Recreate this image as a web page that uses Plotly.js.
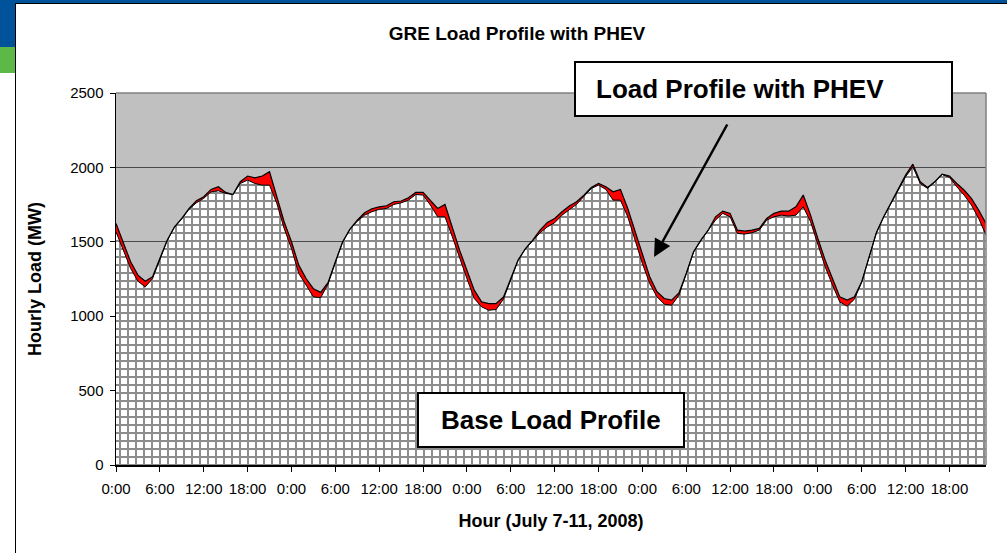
<!DOCTYPE html>
<html>
<head>
<meta charset="utf-8">
<script src="https://cdn.plot.ly/plotly-3.0.1.min.js"></script>
<style>
  html, body { margin: 0; padding: 0; background: #ffffff; }
  #wrap { position: relative; width: 1007px; height: 553px; overflow: hidden; background: #ffffff; }
  .deco { position: absolute; }
  #chart { position: absolute; left: 0; top: 0; width: 1007px; height: 553px; }
</style>
</head>
<body>
<div id="wrap">
  <div class="deco" style="left:0;top:0;width:1007px;height:3px;background:#00529b;"></div>
  <div class="deco" style="left:0;top:0;width:15px;height:47px;background:#00529b;"></div>
  <div class="deco" style="left:0;top:47px;width:15px;height:26px;background:#5cb947;"></div>
  <div class="deco" style="left:15px;top:3px;width:992px;height:1px;background:#000;"></div>
  <div class="deco" style="left:15px;top:3px;width:1px;height:550px;background:#000;"></div>
  <div id="chart"></div>
</div>
<script>
// Hours 0..119 (July 7-11, 2008)
const hours = Array.from({length: 120}, (_, i) => i);

// Base load profile (MW)
const baseLoad = [
  1567,1444,1321,1235,1197,1253,1377,1508,1598,1654,1720,1762,1792,1836,1843,1825,1818,1892,1915,1892,1881,1881,1758,1590,
  1455,1287,1209,1130,1125,1215,1360,1497,1583,1638,1679,1702,1718,1724,1751,1762,1780,1818,1814,1747,1668,1668,1534,1388,
  1253,1119,1063,1040,1045,1115,1250,1375,1452,1505,1561,1600,1628,1679,1718,1752,1805,1858,1881,1852,1780,1780,1668,1511,
  1354,1220,1130,1081,1074,1141,1285,1430,1508,1575,1646,1691,1668,1556,1552,1561,1579,1646,1668,1679,1673,1679,1735,1635,
  1478,1332,1209,1096,1067,1114,1229,1402,1559,1666,1756,1850,1937,2004,1892,1859,1902,1953,1933,1870,1814,1747,1657,1545
];

// Load profile with PHEV charging (MW)
const phevLoad = [
  1623,1489,1366,1276,1235,1265,1388,1511,1601,1657,1724,1776,1803,1852,1870,1832,1818,1904,1942,1930,1942,1971,1803,1635,
  1500,1343,1253,1185,1160,1225,1366,1500,1585,1645,1695,1722,1735,1742,1769,1774,1796,1832,1832,1780,1724,1751,1590,1444,
  1309,1175,1096,1085,1085,1130,1253,1377,1455,1511,1578,1630,1657,1702,1740,1769,1814,1865,1892,1870,1836,1852,1724,1567,
  1410,1265,1164,1119,1108,1157,1287,1433,1511,1578,1668,1706,1691,1578,1572,1578,1590,1657,1691,1706,1706,1735,1814,1679,
  1522,1377,1253,1130,1108,1130,1231,1404,1561,1668,1758,1852,1948,2022,1904,1865,1904,1955,1942,1892,1848,1792,1713,1623
];

// Axis ticks
const xTickVals = [0,6,12,18,24,30,36,42,48,54,60,66,72,78,84,90,96,102,108,114];
const xTickText = ["0:00","6:00","12:00","18:00","0:00","6:00","12:00","18:00","0:00","6:00","12:00","18:00",
                   "0:00","6:00","12:00","18:00","0:00","6:00","12:00","18:00"];
const yTickVals = [0,500,1000,1500,2000,2500];

const FONT = "Liberation Sans, Arial, Helvetica, sans-serif";

// pixel helpers for paper coords of decorations (plot area: x 116..986, y 93..465)
const px = v => (v - 116) / 870;
const py = v => (465 - v) / 372;

const traces = [
  {
    x: hours, y: baseLoad, type: "scatter", mode: "lines", name: "Base Load Profile",
    fill: "tozeroy", fillcolor: "#ffffff",
    fillpattern: { shape: "+", size: 8, solidity: 0.4375, fgcolor: "#8c8c8c", bgcolor: "#ffffff", fillmode: "replace" },
    line: { color: "#000000", width: 1 }, hoverinfo: "x+y", showlegend: false
  },
  {
    x: hours, y: phevLoad, type: "scatter", mode: "lines", name: "Load Profile with PHEV",
    fill: "tonexty", fillcolor: "#ff0000",
    line: { color: "#000000", width: 1.2 }, hoverinfo: "x+y", showlegend: false
  }
];

const layout = {
  width: 1007, height: 553,
  margin: { l: 116, r: 21, t: 93, b: 88 },
  paper_bgcolor: "rgba(0,0,0,0)",
  plot_bgcolor: "#c0c0c0",
  font: { family: FONT, color: "#000000", size: 15 },
  title: { text: "<b>GRE Load Profile with PHEV</b>", font: { family: FONT, size: 19, color: "#000" },
           x: 517 / 1007, xref: "container", xanchor: "center", y: 1 - 33/553, yref: "container", yanchor: "middle" },
  xaxis: {
    range: [0, 119], tickmode: "array", tickvals: xTickVals, ticktext: xTickText,
    ticks: "outside", ticklen: 5, tickcolor: "#000", tickwidth: 1,
    showline: true, linecolor: "#000", linewidth: 1.5, showgrid: false, zeroline: false,
    tickfont: { family: FONT, size: 15, color: "#000" }, ticklabelstandoff: 4,
    title: { text: "<b>Hour (July 7-11, 2008)</b>", font: { family: FONT, size: 18, color: "#000" }, standoff: 19 },
    fixedrange: true
  },
  yaxis: {
    range: [0, 2500], tickmode: "array", tickvals: yTickVals,
    ticks: "outside", ticklen: 5, tickcolor: "#000", tickwidth: 1,
    showline: true, linecolor: "#000", linewidth: 1.5,
    showgrid: true, gridcolor: "#4a4a4a", gridwidth: 1, zeroline: false,
    tickfont: { family: FONT, size: 15, color: "#000" }, ticklabelstandoff: 3,
    title: { text: "<b>Hourly Load (MW)</b>", font: { family: FONT, size: 18, color: "#000" }, standoff: 24 },
    fixedrange: true
  },
  shapes: [
    { type: "line", xref: "paper", yref: "paper", x0: 0, x1: 1, y0: 1, y1: 1, line: { color: "#808080", width: 1.5 }, layer: "above" },
    { type: "line", xref: "paper", yref: "paper", x0: 1, x1: 1, y0: 0, y1: 1, line: { color: "#808080", width: 1.5 }, layer: "above" },
    { type: "rect", xref: "paper", yref: "paper", x0: px(575), x1: px(952), y0: py(116), y1: py(62),
      fillcolor: "#ffffff", line: { color: "#000000", width: 2 }, layer: "above" },
    { type: "rect", xref: "paper", yref: "paper", x0: px(418), x1: px(684), y0: py(447), y1: py(393),
      fillcolor: "#ffffff", line: { color: "#000000", width: 2 }, layer: "above" }
  ],
  annotations: [
    { xref: "paper", yref: "paper", x: px(740), y: py(89), xanchor: "center", yanchor: "middle",
      text: "<b>Load Profile with PHEV</b>", showarrow: false, font: { family: FONT, size: 26, color: "#000" } },
    { xref: "paper", yref: "paper", x: px(551), y: py(420), xanchor: "center", yanchor: "middle",
      text: "<b>Base Load Profile</b>", showarrow: false, font: { family: FONT, size: 26, color: "#000" } },
    { xref: "x", yref: "y", x: (654 - 116) / 7.31, y: (465 - 257) / 0.1488, text: "", showarrow: true,
      ax: 74, ay: -134, arrowhead: 2, arrowsize: 1.4, arrowwidth: 2.5, arrowcolor: "#000000" }
  ],
  showlegend: false
};

Plotly.newPlot("chart", traces, layout, { displayModeBar: false, staticPlot: true });
</script>
</body>
</html>
